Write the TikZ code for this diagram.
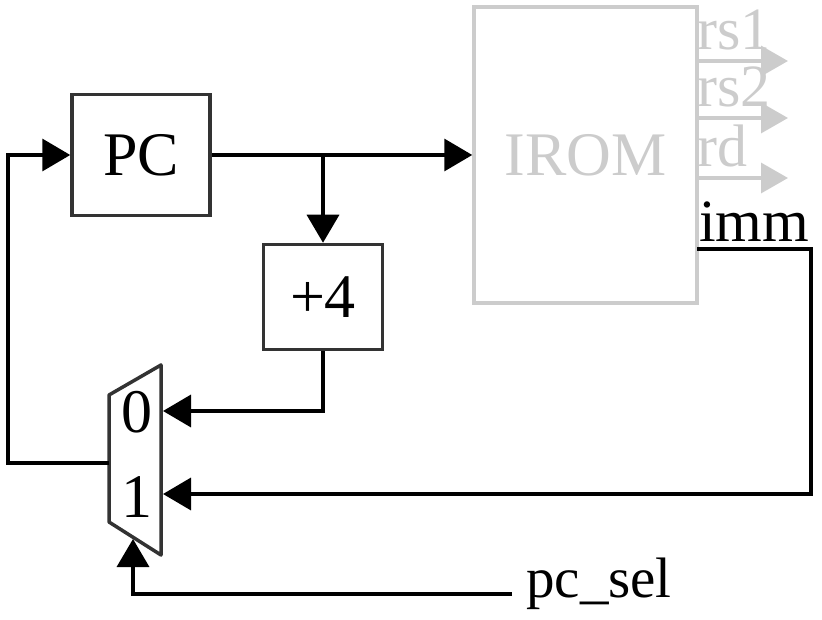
\documentclass[tikz,border=0pt]{standalone}
\usepackage{fontspec}
\setmainfont{Liberation Serif}
\usetikzlibrary{arrows.meta, calc}
\definecolor{romgray}{gray}{0.80}
\definecolor{boxgray}{gray}{0.20}
\tikzstyle{blk}=[shape=rectangle, draw=boxgray, line width=3.5pt, inner sep=0, font=\fontsize{62}{62}\selectfont]
\tikzstyle{rom}=[shape=rectangle, draw=romgray, line width=3.5pt, inner sep=0, text=romgray, font=\fontsize{62}{62}\selectfont]
\tikzstyle{wire}=[line width=3.5pt, -{Triangle[length=28pt, width=32pt]}]
\tikzstyle{romwire}=[line width=3.5pt, draw=romgray, -{Triangle[length=27pt, width=30pt]}]
\tikzstyle{lbl}=[inner sep=0, anchor=base west, font=\fontsize{60}{60}\selectfont]

\begin{document}
\begin{tikzpicture}[x=1pt, y=-1pt]
\useasboundingbox (0,0) rectangle (822,620);
% blocks
\node[blk, minimum width=138, minimum height=121] (pc) at (141,155) {PC};
\node[blk, minimum width=119, minimum height=105] (plus) at (323,297) {+4};
\node[rom, minimum width=223, minimum height=296] (irom) at (585.5,155) {IROM};
% mux
\draw[draw=boxgray, line width=3.5pt, line join=round] (161,365) -- (109,395) -- (109,522) -- (161,555) -- cycle;
\node[inner sep=0, font=\fontsize{62}{62}\selectfont] (m0) at (137,412) {0};
\node[inner sep=0, font=\fontsize{62}{62}\selectfont] (m1) at (137,497) {1};
\coordinate (mux in0) at (163,411);
\coordinate (mux in1) at (163,494);
\coordinate (mux out) at (109,463);
\coordinate (mux sel) at (133,539);
% IROM outputs
\foreach \y/\t [count=\i] in {61/rs1, 118/rs2, 178/rd}
{
\coordinate (o\i) at (697,\y);
\draw[romwire] (o\i) -- ++(91,0);
\node[lbl, text=romgray] at ($(o\i)+(0,-11)$) {\t};
}
\node[lbl] (imm) at (699,242) {imm};
\coordinate (immS) at (697,249);
\coordinate (immR) at (811,249);
% connections
\draw[wire] (pc.east) -- (irom.west);
\coordinate (br) at (323,155);
\draw[wire] (br) -- (plus.north);
\draw[wire] (plus.south) |- (mux in0);
\draw[wire] (immS) -- (immR) |- (mux in1);
\coordinate (fb) at (8,463);
\draw[wire] (mux out) -- (fb) |- (pc.west);
\node[inner sep=0, anchor=base west, font=\fontsize{57}{57}\selectfont] (pcsel) at (526,597) {pc\_sel};
\coordinate (selR) at (512,594);
\draw[wire] (selR) -| (mux sel);
\end{tikzpicture}
\end{document}
